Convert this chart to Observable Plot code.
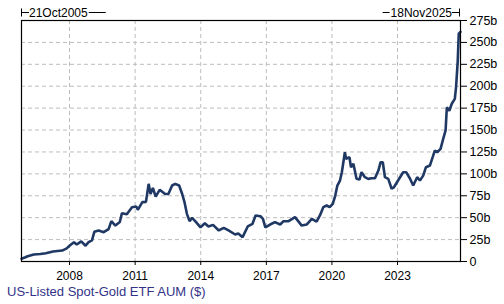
<!DOCTYPE html>
<html><head><meta charset="utf-8">
<script src="https://cdn.jsdelivr.net/npm/d3@7"></script>
<script src="https://cdn.jsdelivr.net/npm/@observablehq/plot@0.6"></script>
<style>
body{margin:0;background:#fff;font-family:"Liberation Sans",Arial,sans-serif;}
#chart svg{display:block;}
#caption{font-size:13px;color:#333388;padding-left:7px;line-height:17px;white-space:nowrap;}
</style></head><body>
<div id="chart"></div>
<div id="caption">US-Listed Spot-Gold ETF AUM ($)</div>
<script>
const dates = [
"2005-10-21","2005-12-15","2006-02-01","2006-05-15","2006-09-01","2006-12-01","2007-04-01","2007-09-01","2007-11-15",
"2008-01-01","2008-03-15","2008-05-01","2008-07-15","2008-09-25","2008-11-15",
"2009-01-10","2009-02-20","2009-05-01","2009-07-25","2009-10-15","2009-11-30",
"2010-02-05","2010-04-20","2010-05-25","2010-08-15","2010-11-10",
"2011-01-20","2011-02-15","2011-05-01","2011-07-01","2011-08-15","2011-09-15","2011-10-25","2011-12-10",
"2012-02-15","2012-05-15","2012-07-10","2012-09-10","2012-11-01",
"2013-01-05","2013-02-25","2013-04-05","2013-05-15","2013-06-28","2013-08-10","2013-10-15","2013-12-28",
"2014-03-10","2014-05-10","2014-07-25","2014-10-30",
"2015-01-20","2015-04-10","2015-07-30","2015-09-20","2015-12-01",
"2016-02-25","2016-05-15","2016-07-05","2016-09-25","2016-11-05","2016-12-15",
"2017-03-05","2017-05-25","2017-08-20","2017-10-15",
"2018-01-08","2018-04-25","2018-08-15","2018-11-05",
"2019-01-30","2019-04-20","2019-06-15","2019-08-10","2019-10-05","2019-11-25",
"2020-01-15","2020-02-25","2020-04-01","2020-05-15","2020-06-15","2020-08-05","2020-08-25","2020-10-20","2020-11-15","2020-12-25",
"2021-02-15","2021-04-05","2021-05-10","2021-07-05","2021-08-30","2021-10-25","2021-12-20",
"2022-02-15","2022-03-25","2022-04-30","2022-06-05","2022-07-30","2022-09-25","2022-10-30",
"2023-01-10","2023-04-05","2023-05-25","2023-07-25","2023-09-20","2023-11-25",
"2024-01-10","2024-03-05","2024-04-20","2024-06-25","2024-08-10","2024-09-15","2024-10-25","2024-12-20",
"2025-02-02","2025-03-14","2025-04-04","2025-05-15","2025-06-25","2025-08-15","2025-09-05","2025-10-03","2025-10-20","2025-11-18"
];
const aum = [
3.2,4.5,6,8,8.5,9.5,11.4,12.5,15,
18,22,19.4,23,18,22,
24,34,35.4,33.5,37,46,
41,45,55,54,62,
62.8,59,67.7,68,88.6,77,84,74,
81.8,77,77,86.7,88.6,
86.7,77,67.7,54.4,46,49.8,44.9,39,
43.7,40,41.8,35.4,
38.4,35.4,30.8,32,27.8,
40,43,52.5,51.7,48.7,39,
42.2,44.9,42.2,46,
46,50.6,41,42.2,
48.7,45.6,52.5,62,63.9,62,
65.8,75,86.7,92.4,101.9,124.7,117,119,107.6,111.5,
94.3,93.5,101.9,96.2,94.3,95,95,
103.8,113.3,113.3,96.2,94.3,83,84.5,
92.4,101.9,101.9,95,86.7,96.2,
92.4,98,107.6,109.5,119,126.6,124.7,128.6,
140,149.5,176,172,180,185.6,199,229,260,262
];
const yTicks = [0,25,50,75,100,125,150,175,200,225,250,275];
const xTickYears = ["2008","2011","2014","2017","2020","2023"];
const startLabel = "21Oct2005";
const endLabel = "18Nov2025";
const startDay = "2005-10-21";
const endDay = "2025-11-18";

const parse = d3.utcParse("%Y-%m-%d");
const data = dates.map((d, i) => ({date: parse(d), value: aum[i]}));
const xTicks = xTickYears.map(y => d3.utcParse("%Y")(y));
const startDate = parse(startDay), endDate = parse(endDay);

const chart = Plot.plot({
  width: 504,
  height: 283,
  marginLeft: 21,
  marginRight: 44,
  marginTop: 20,
  marginBottom: 22,
  style: {fontFamily: "'Liberation Sans', Arial, sans-serif", fontSize: "12px", background: "#fff", color: "#000"},
  x: {type: "utc", domain: [startDate, endDate], label: null},
  y: {domain: [0, 275], label: null},
  marks: [
    Plot.gridY(yTicks.filter(v => v > 0 && v < 275), {stroke: "#bdbdbd", strokeOpacity: 1, strokeDasharray: "4,3"}),
    Plot.gridX(xTicks, {stroke: "#bdbdbd", strokeOpacity: 1, strokeDasharray: "4,3"}),
    Plot.lineY(data, {x: "date", y: "value", stroke: "#1f3864", strokeWidth: 2.6, strokeLinejoin: "miter", curve: "linear"}),
    Plot.frame({stroke: "#000", strokeWidth: 1.2}),
    Plot.axisY(yTicks, {anchor: "right", tickSize: 6, tickPadding: 3, stroke: "#000", fill: "#000", fontSize: 12.5,
      tickFormat: d => d === 0 ? "0" : d + "b"}),
    Plot.axisX(xTicks, {anchor: "bottom", tickSize: 4, tickPadding: 6, stroke: "#000", fill: "#000", fontSize: 12,
      tickFormat: d3.utcFormat("%Y")})
  ]
});
document.getElementById("chart").appendChild(chart);

// Date-range markers above the plot, positioned through Plot's x scale
const sx = chart.scale("x");
const x0 = sx.apply(startDate), x1 = sx.apply(endDate);
const svg = d3.select(chart);
const g = svg.append("g").attr("stroke", "#000").attr("stroke-width", 1);
const yl = 12.5;
g.append("line").attr("x1", x0 + 0.5).attr("x2", x0 + 0.5).attr("y1", 8.5).attr("y2", 16.5);
g.append("line").attr("x1", x0).attr("x2", x0 + 8).attr("y1", yl).attr("y2", yl);
const t0 = g.append("text").attr("x", x0 + 8).attr("y", 16.8).attr("text-anchor", "start").attr("stroke", "none").attr("fill", "#000")
  .attr("font-size", 12).text(startLabel);
const w0 = t0.node().getComputedTextLength();
g.append("line").attr("x1", x0 + 9 + w0).attr("x2", x0 + 26 + w0).attr("y1", yl).attr("y2", yl);
g.append("line").attr("x1", x1 - 0.5).attr("x2", x1 - 0.5).attr("y1", 8.5).attr("y2", 16.5);
g.append("line").attr("x1", x1 - 8).attr("x2", x1).attr("y1", yl).attr("y2", yl);
const t1 = g.append("text").attr("x", x1 - 8).attr("y", 16.8).attr("text-anchor", "end").attr("stroke", "none").attr("fill", "#000")
  .attr("font-size", 12).text(endLabel);
const w1 = t1.node().getComputedTextLength();
g.append("line").attr("x1", x1 - 9 - w1 - 7).attr("x2", x1 - 9 - w1).attr("y1", yl).attr("y2", yl);
</script>
</body></html>
